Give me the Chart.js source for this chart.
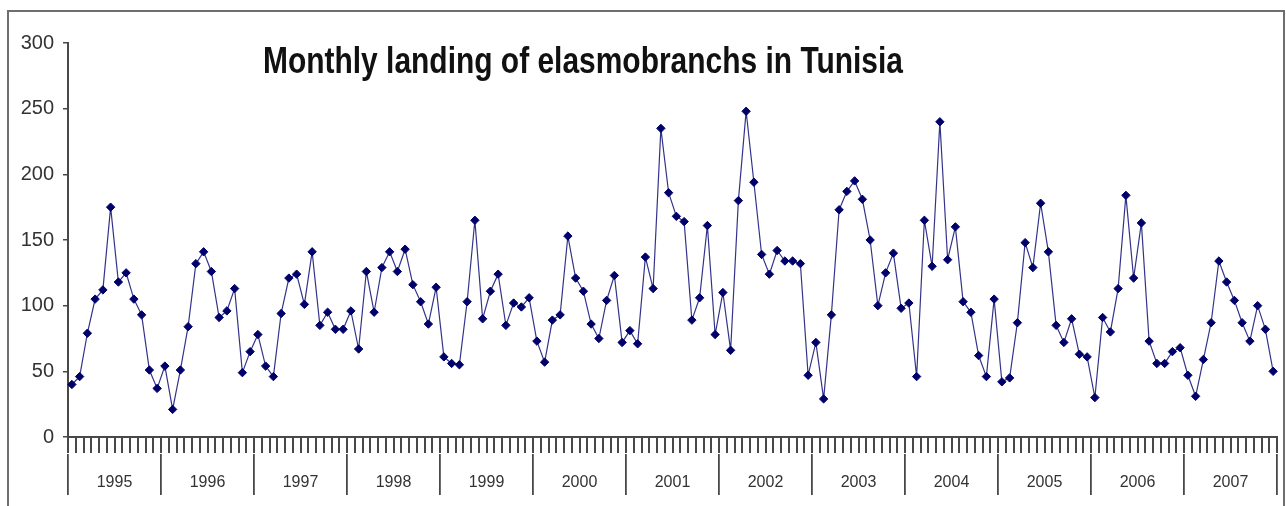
<!DOCTYPE html>
<html>
<head>
<meta charset="utf-8">
<script src="https://cdn.jsdelivr.net/npm/chart.js@4"></script>
<style>
  html, body { margin: 0; padding: 0; background: #fff; }
  canvas { display: block; }
</style>
</head>
<body>
<canvas id="chart" width="1286" height="506"></canvas>
<script>
// one landing value per month, Jan..Dec
const years = ['1995', '1996', '1997', '1998', '1999', '2000', '2001',
               '2002', '2003', '2004', '2005', '2006', '2007'];
const y1995 = [40, 46, 79, 105, 112, 175, 118, 125, 105, 93, 51, 37];
const y1996 = [54, 21, 51, 84, 132, 141, 126, 91, 96, 113, 49, 65];
const y1997 = [78, 54, 46, 94, 121, 124, 101, 141, 85, 95, 82, 82];
const y1998 = [96, 67, 126, 95, 129, 141, 126, 143, 116, 103, 86, 114];
const y1999 = [61, 56, 55, 103, 165, 90, 111, 124, 85, 102, 99, 106];
const y2000 = [73, 57, 89, 93, 153, 121, 111, 86, 75, 104, 123, 72];
const y2001 = [81, 71, 137, 113, 235, 186, 168, 164, 89, 106, 161, 78];
const y2002 = [110, 66, 180, 248, 194, 139, 124, 142, 134, 134, 132, 47];
const y2003 = [72, 29, 93, 173, 187, 195, 181, 150, 100, 125, 140, 98];
const y2004 = [102, 46, 165, 130, 240, 135, 160, 103, 95, 62, 46, 105];
const y2005 = [42, 45, 87, 148, 129, 178, 141, 85, 72, 90, 63, 61];
const y2006 = [30, 91, 80, 113, 184, 121, 163, 73, 56, 56, 65, 68];
const y2007 = [47, 31, 59, 87, 134, 118, 104, 87, 73, 100, 82, 50];
const yTicks = [0, 50, 100, 150, 200, 250, 300];
const chartTitle = 'Monthly landing of elasmobranchs in Tunisia';

const landings = [].concat(y1995, y1996, y1997, y1998, y1999, y2000, y2001,
                           y2002, y2003, y2004, y2005, y2006, y2007);
const months = [];
years.forEach(y => {
  for (let m = 1; m <= 12; m++) months.push(y + '-' + m);
});

const AXIS = '#484848';
const TEXT = '#333333';

// grey frame round the whole picture + title drawn over the plot
const framePlugin = {
  id: 'frame',
  beforeDraw(chart) {
    const ctx = chart.ctx;
    ctx.save();
    ctx.strokeStyle = '#6e6e6e';
    ctx.lineWidth = 2;
    ctx.strokeRect(8, 11, 1276, 520);
    ctx.restore();
  },
  afterDraw(chart) {
    const ctx = chart.ctx;
    ctx.save();
    ctx.font = 'bold 36px "Liberation Sans", Arial, sans-serif';
    ctx.fillStyle = '#111';
    ctx.textBaseline = 'alphabetic';
    const w = ctx.measureText(chartTitle).width;
    ctx.translate(263, 72.5);
    ctx.scale(640 / w, 1);
    ctx.fillText(chartTitle, 0, 0);
    ctx.restore();
  }
};

new Chart(document.getElementById('chart'), {
  type: 'line',
  data: {
    labels: months,
    datasets: [{
      data: landings,
      borderColor: '#33338a',
      borderWidth: 1.2,
      backgroundColor: '#00006b',
      pointBackgroundColor: '#00006b',
      pointBorderColor: '#00006b',
      pointStyle: 'rectRot',
      pointRadius: 4.2,
      pointBorderWidth: 1,
      tension: 0,
      fill: false
    }]
  },
  options: {
    responsive: false,
    animation: false,
    devicePixelRatio: 1,
    layout: { padding: { top: 43, right: 9, bottom: 0, left: 0 } },
    plugins: {
      legend: { display: false },
      tooltip: { enabled: false }
    },
    scales: {
      x: {
        type: 'category',
        position: 'bottom',
        weight: 0,
        offset: true,
        ticks: { display: false, autoSkip: false },
        grid: {
          offset: true,
          drawOnChartArea: false,
          tickLength: 16,
          color: AXIS,
          lineWidth: 2
        },
        border: { display: true, color: AXIS, width: 2 },
        afterFit: s => { s.height = 17; }
      },
      years: {
        type: 'category',
        position: 'bottom',
        weight: 1,
        labels: years,
        offset: true,
        ticks: {
          autoSkip: false,
          maxRotation: 0,
          padding: -22,
          color: TEXT,
          font: { family: '"Liberation Sans", Arial, sans-serif', size: 16 }
        },
        grid: {
          offset: true,
          drawOnChartArea: false,
          tickLength: 41,
          color: AXIS,
          lineWidth: 1.8
        },
        border: { display: false },
        afterFit: s => { s.height = 52; }
      },
      y: {
        min: 0,
        max: 300,
        afterBuildTicks: s => { s.ticks = yTicks.map(v => ({ value: v })); },
        ticks: {
          padding: 9,
          color: TEXT,
          font: { family: '"Liberation Sans", Arial, sans-serif', size: 20 }
        },
        grid: {
          drawOnChartArea: false,
          tickLength: 5,
          color: AXIS,
          lineWidth: 1.5
        },
        border: { display: true, color: AXIS, width: 2 },
        afterFit: s => { s.width = 68; }
      }
    }
  },
  plugins: [framePlugin]
});
</script>
</body>
</html>
